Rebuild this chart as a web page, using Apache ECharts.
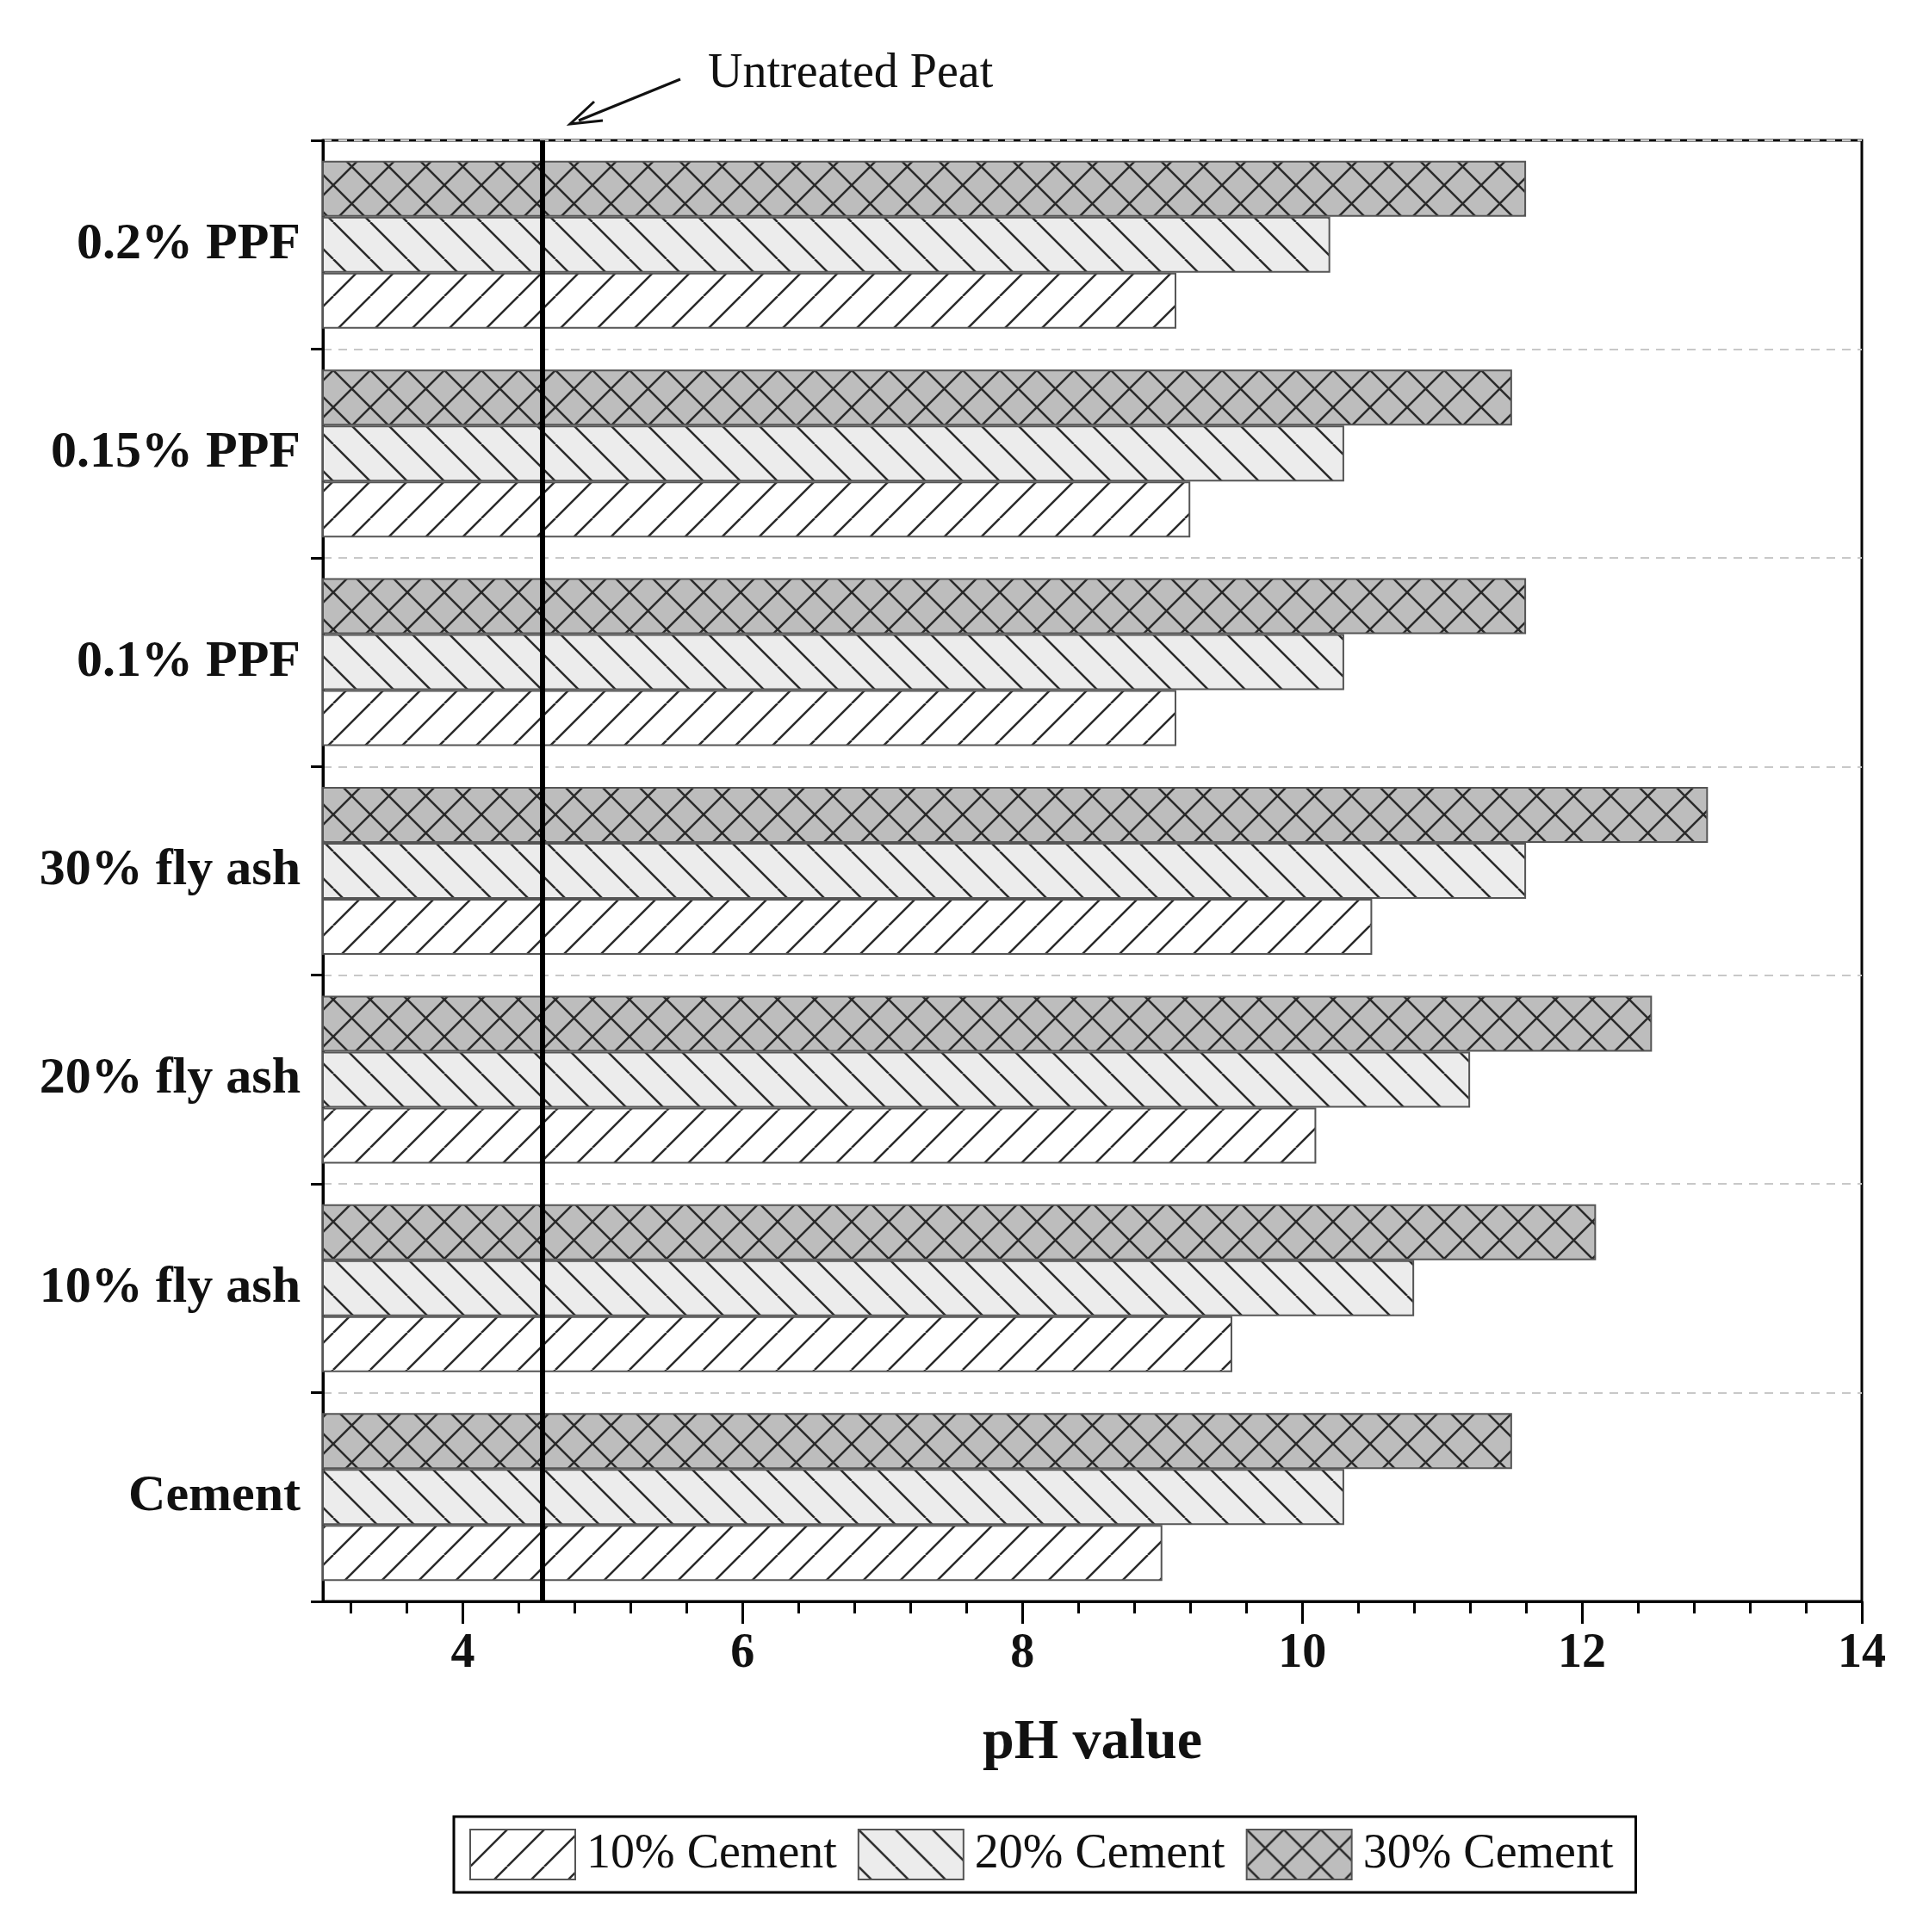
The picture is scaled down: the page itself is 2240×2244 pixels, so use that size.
<!DOCTYPE html>
<html>
<head>
<meta charset="utf-8">
<script src="https://cdn.jsdelivr.net/npm/echarts@6/dist/echarts.min.js"></script>
<style>
  html, body { margin: 0; padding: 0; background: #fff; }
  #main { width: 2240px; height: 2244px; }
</style>
</head>
<body>
<div id="main"></div>
<script>
var categories = ["Cement", "10% fly ash", "20% fly ash", "30% fly ash", "0.1% PPF", "0.15% PPF", "0.2% PPF"];
var cement10 = [9.0, 9.5, 10.1, 10.5, 9.1, 9.2, 9.1];
var cement20 = [10.3, 10.8, 11.2, 11.6, 10.3, 10.3, 10.2];
var cement30 = [11.5, 12.1, 12.5, 12.9, 11.6, 11.5, 11.6];
var untreatedPeat = 4.57;
var majorTicks = [4, 6, 8, 10, 12, 14];
var minorTicks = [3.2, 3.6, 4.4, 4.8, 5.2, 5.6, 6.4, 6.8, 7.2, 7.6, 8.4, 8.8, 9.2, 9.6,
                  10.4, 10.8, 11.2, 11.6, 12.4, 12.8, 13.2, 13.6];

/* hatch patterns drawn on small canvases */
function hatch(bg, fwd, back) {
    var s = 43;
    var c = document.createElement("canvas");
    c.width = s; c.height = s;
    var g = c.getContext("2d");
    g.fillStyle = bg;
    g.fillRect(0, 0, s, s);
    g.strokeStyle = "#2a2a2a";
    g.lineWidth = 2.5;
    g.beginPath();
    if (fwd) {
        for (var k = -1; k <= 1; k++) {
            g.moveTo(k * s, s); g.lineTo(k * s + s, 0);
        }
    }
    if (back) {
        for (var k = -1; k <= 1; k++) {
            g.moveTo(k * s, 0); g.lineTo(k * s + s, s);
        }
    }
    g.stroke();
    return { image: c, repeat: "repeat" };
}

var serif = "Liberation Serif";

function barSeries(name, data, color) {
    return {
        name: name,
        type: "bar",
        data: data,
        barWidth: 65,
        barGap: "0%",
        itemStyle: { color: color, borderColor: "#555", borderWidth: 2 },
    };
}

var s10 = barSeries("10% Cement", cement10, hatch("#ffffff", true, false));
var s20 = barSeries("20% Cement", cement20, hatch("#ececec", false, true));
var s30 = barSeries("30% Cement", cement30, hatch("#bdbdbd", true, true));
s10.markLine = {
    silent: true,
    symbol: "none",
    label: { show: false },
    lineStyle: { color: "#000", width: 6, type: "solid" },
    data: [{ xAxis: untreatedPeat }],
};

var option = {
    backgroundColor: "#fff",
    animation: false,
    textStyle: { fontFamily: serif },
    grid: {
        left: 375, right: 78, top: 163, bottom: 384,
        show: true, borderColor: "#000", borderWidth: 3, backgroundColor: "transparent",
    },
    legend: {
        data: ["10% Cement", "20% Cement", "30% Cement"],
        icon: "rect",
        left: 527, top: 2110,
        itemWidth: 122, itemHeight: 58, itemGap: 24,
        borderColor: "#000", borderWidth: 3, padding: [14, 26, 14, 18],
        textStyle: { fontFamily: serif, fontSize: 56, color: "#111", padding: [0, 0, 0, 8] },
    },
    xAxis: [{
        type: "value",
        min: 3, max: 14, interval: 1,
        name: "pH value",
        nameLocation: "middle",
        nameGap: 132,
        nameTextStyle: { fontFamily: serif, fontSize: 66, fontWeight: "bold", color: "#111" },
        axisLine: { show: true, lineStyle: { color: "#000", width: 3 } },
        axisTick: { show: true, customValues: majorTicks, length: 26, lineStyle: { color: "#000", width: 3 } },
        axisLabel: { customValues: majorTicks, fontFamily: serif, fontSize: 56, fontWeight: "bold", color: "#111", margin: 34 },
        splitLine: { show: false },
    }, {
        type: "value",
        position: "bottom",
        min: 3, max: 14, interval: 1,
        axisLine: { show: false },
        axisTick: { show: true, customValues: minorTicks, length: 14, lineStyle: { color: "#000", width: 3 } },
        axisLabel: { show: false },
        splitLine: { show: false },
    }],
    yAxis: {
        type: "category",
        data: categories,
        axisLine: { show: true, lineStyle: { color: "#000", width: 3 } },
        axisTick: { show: true, length: 14, lineStyle: { color: "#000", width: 3 } },
        axisLabel: { fontFamily: serif, fontSize: 60, fontWeight: "bold", color: "#111", margin: 26 },
        splitLine: { show: true, lineStyle: { color: "#c8c8c8", width: 2, type: [10, 8] } },
    },
    graphic: [
        {
            type: "text", left: 822, top: 58,
            style: { text: "Untreated Peat", font: "56px 'Liberation Serif'", fill: "#111" },
        },
        {
            type: "line",
            shape: { x1: 790, y1: 92, x2: 672, y2: 140 },
            style: { stroke: "#111", lineWidth: 3 },
        },
        {
            type: "polyline",
            shape: { points: [[690, 118], [662, 144], [700, 140]] },
            style: { stroke: "#111", lineWidth: 3, fill: null },
        },
    ],
    series: [s30, s20, s10],
};

var myChart = echarts.init(document.getElementById("main"));
myChart.setOption(option);
</script>
</body>
</html>
